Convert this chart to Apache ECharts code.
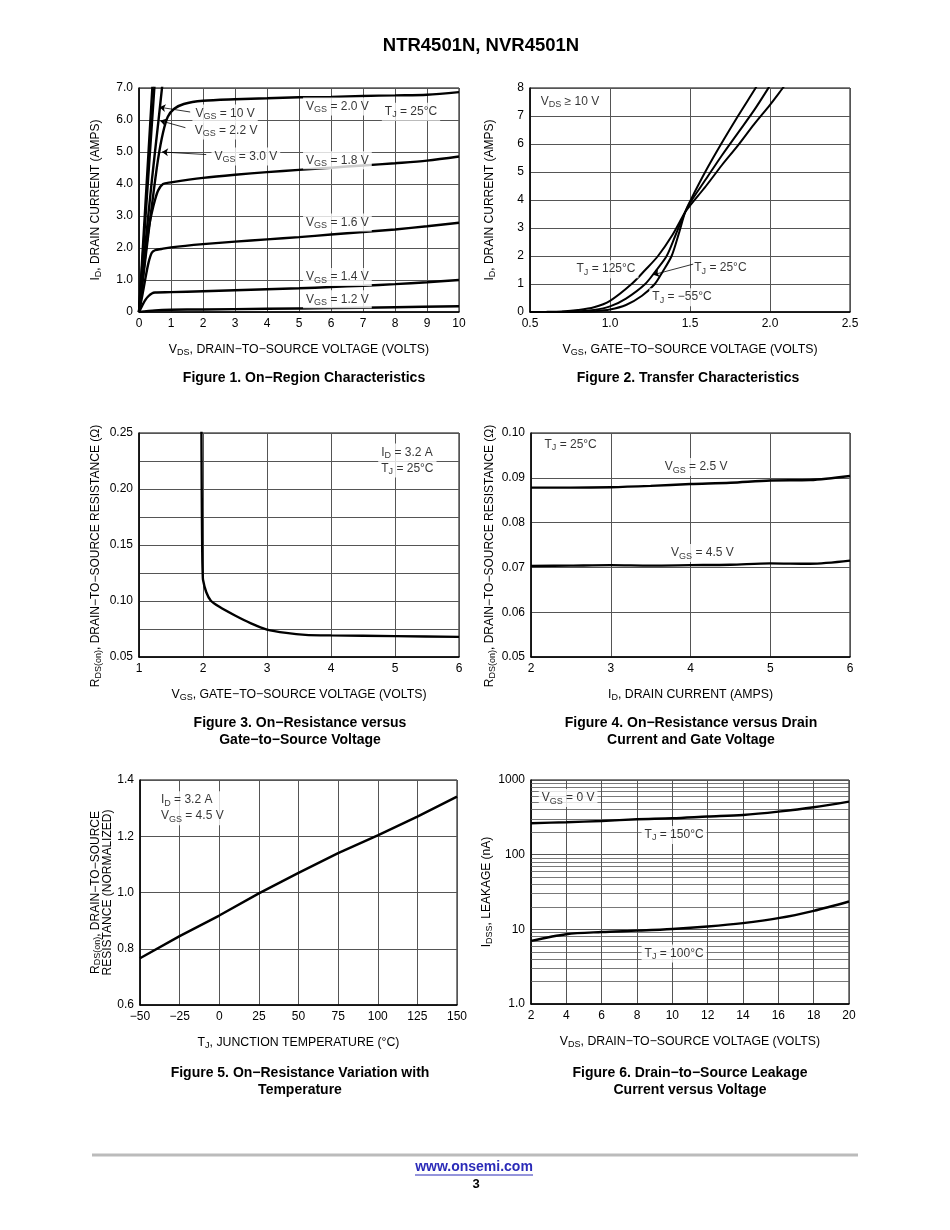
<!DOCTYPE html>
<html>
<head>
<meta charset="utf-8">
<script src="https://cdn.jsdelivr.net/npm/echarts@6/dist/echarts.min.js"></script>
<style>
html,body{margin:0;padding:0;background:#fff;}
#c{width:950px;height:1230px;}
</style>
</head>
<body>
<div id="c"></div>
<script>
// ---------- DATA ----------
// Figure 1: On-Region Characteristics (VDS [V], ID [A])
const fig1Vgs10 = [[0,0],[0.2,3.35],[0.44,7.4]];
const fig1Vgs30 = [[0,0],[0.25,3.65],[0.5,7.3]];
const fig1Vgs22 = [[0,0],[0.2,2.1],[0.4,4.1],[0.6,5.9],[0.74,7.2]];
const fig1Vgs20 = [[0,0],[0.15,1.25],[0.3,2.5],[0.45,3.7],[0.6,4.8],[0.75,5.6],[0.9,6.1],[1.1,6.35],[1.4,6.5],[2,6.6],[3,6.65],[4,6.68],[5,6.71],[6,6.72],[7,6.75],[8,6.77],[9,6.79],[10,6.87]];
const fig1Vgs18 = [[0,0],[0.1,0.9],[0.2,1.8],[0.3,2.6],[0.4,3.1],[0.5,3.5],[0.6,3.8],[0.75,4.0],[1,4.05],[2,4.19],[3,4.29],[4,4.37],[5,4.44],[6,4.51],[7,4.58],[8,4.65],[9,4.73],[10,4.86]];
const fig1Vgs16 = [[0,0],[0.1,0.5],[0.2,1.05],[0.3,1.55],[0.4,1.85],[0.5,1.93],[0.7,1.97],[1,2.02],[2,2.12],[3,2.2],[4,2.27],[5,2.34],[6,2.42],[7,2.5],[8,2.58],[9,2.68],[10,2.79]];
const fig1Vgs14 = [[0,0],[0.1,0.2],[0.2,0.38],[0.3,0.5],[0.4,0.58],[0.5,0.61],[1,0.62],[2,0.65],[3,0.68],[4,0.71],[5,0.74],[6,0.78],[7,0.82],[8,0.87],[9,0.93],[10,1.0]];
const fig1Vgs12 = [[0,0],[0.5,0.05],[1,0.07],[2,0.08],[4,0.1],[6,0.12],[8,0.15],[10,0.18]];

// Figure 2: Transfer Characteristics (VGS [V], ID [A])
const fig2Tj125 = [[0.5,0],[0.6,0.004],[0.7,0.02],[0.8,0.07],[0.9,0.17],[1.0,0.4],[1.135,1.0],[1.22,1.5],[1.30,2.0],[1.39,2.75],[1.47,3.57],[1.5,3.8],[1.6,4.5],[1.7,5.25],[1.8,5.95],[1.9,6.7],[2.0,7.4],[2.08,8.0],[2.1,8.15]];
const fig2Tj25 = [[0.5,0],[0.7,0.005],[0.8,0.02],[0.9,0.07],[1.0,0.2],[1.1,0.48],[1.22,1.0],[1.29,1.5],[1.354,2.0],[1.41,2.75],[1.47,3.57],[1.5,3.9],[1.6,4.75],[1.7,5.6],[1.8,6.4],[1.9,7.2],[1.99,8.0],[2.01,8.2]];
const fig2TjM55 = [[0.5,0],[0.8,0.01],[0.9,0.03],[1.0,0.09],[1.1,0.25],[1.2,0.58],[1.28,1.0],[1.33,1.45],[1.385,2.0],[1.43,2.8],[1.47,3.57],[1.5,3.95],[1.6,5.05],[1.7,6.05],[1.8,7.0],[1.91,8.0],[1.93,8.2]];

// Figure 3: On-Resistance vs VGS (VGS [V], RDS(on) [ohm])
const fig3Rds = [[1.975,0.26],[1.98,0.2],[1.985,0.16],[1.99,0.135],[1.995,0.125],[2.0,0.119],[2.05,0.108],[2.12,0.1005],[2.25,0.095],[2.5,0.087],[2.75,0.0800],[3.0,0.0745],[3.3,0.0715],[3.6,0.0698],[4.0,0.0693],[5.0,0.0686],[6.0,0.068]];

// Figure 4: On-Resistance vs ID (ID [A], RDS(on) [ohm])
const fig4Vgs25 = [[2,0.0878],[2.5,0.0878],[3,0.0879],[3.5,0.0882],[4,0.0886],[4.5,0.0889],[5,0.0894],[5.5,0.0895],[6,0.0904]];
const fig4Vgs45 = [[2,0.0703],[2.5,0.0704],[3,0.0705],[3.5,0.0704],[4,0.0705],[4.5,0.0706],[5,0.0709],[5.5,0.0708],[6,0.0715]];

// Figure 5: Normalized RDS(on) vs TJ
const fig5Rn = [[-50,0.766],[-25,0.845],[0,0.918],[25,0.997],[50,1.07],[75,1.14],[100,1.203],[125,1.27],[150,1.341]];

// Figure 6: IDSS leakage (VDS [V], nA)
const fig6Tj150 = [[2,264],[4,272],[6,283],[8,298],[10,307],[12,324],[14,340],[16,377],[18,431],[20,514]];
const fig6Tj100 = [[2,7.0],[4,8.6],[6,9.2],[8,9.6],[10,10.1],[12,10.9],[14,12.1],[16,14.1],[18,17.7],[20,23.6]];
const fig6MinorGrid = [2,3,4,5,6,7,8,9,20,30,40,50,60,70,80,90,200,300,400,500,600,700,800,900];

// ---------- HELPERS ----------
const F = '"Liberation Sans", Arial, Helvetica, sans-serif';
const RICH = {
  n: {fontSize: 12, fontFamily: F, color: '#000', lineHeight: 16},
  s: {fontSize: 9, fontFamily: F, color: '#000', lineHeight: 16, padding: [6,0,0,0]}
};
const RICH_X = {
  n: {fontSize: 12.3, fontFamily: F, color: '#000', lineHeight: 16},
  s: {fontSize: 9, fontFamily: F, color: '#000', lineHeight: 16, padding: [6,0,0,0]}
};
const RICH_Y = {
  n: {fontSize: 12, fontFamily: F, color: '#000', lineHeight: 16},
  s: {fontSize: 9, fontFamily: F, color: '#000', lineHeight: 16, padding: [6,0,0,0]}
};
const RICH_Y2 = {
  n: {fontSize: 12, fontFamily: F, color: '#000', lineHeight: 12},
  s: {fontSize: 9, fontFamily: F, color: '#000', lineHeight: 12, padding: [5,0,0,0]}
};
function sub(str) {
  return str.split('\n').map(line =>
    line.split(/(_\{[^}]*\})/).filter(p => p.length).map(p =>
      p.startsWith('_{') ? '{s|' + p.slice(2, -1) + '}' : '{n|' + p + '}'
    ).join('')
  ).join('\n');
}
function curve(gi, data, w, sm) {
  return {type: 'line', xAxisIndex: gi, yAxisIndex: gi, data: data, symbol: 'none', showSymbol: false,
    smooth: sm === undefined ? 0.3 : sm, clip: true, silent: true, z: 5,
    lineStyle: {color: '#000', width: w || 2.4}};
}
function note(gi, x, y, text, pos) {
  return {type: 'scatter', xAxisIndex: gi, yAxisIndex: gi, data: [[x, y]], symbolSize: 1, silent: true, z: 6,
    itemStyle: {color: 'rgba(0,0,0,0)'},
    label: {show: true, position: pos || 'inside', distance: 0, formatter: () => sub(text), rich: RICH,
      backgroundColor: '#fff', padding: [1, 3, 1, 3], align: pos === 'right' ? 'left' : 'center'}};
}
function arrow(gi, from, to) {
  return {type: 'lines', coordinateSystem: 'cartesian2d', xAxisIndex: gi, yAxisIndex: gi, silent: true, z: 7,
    symbol: ['none', 'arrow'], symbolSize: [0, 6],
    lineStyle: {color: '#000', width: 0.8, opacity: 1, curveness: 0},
    data: [{coords: [from, to]}]};
}
const TICK = {color: '#000', fontSize: 12, fontFamily: F};
function xAxis(gi, o) {
  return Object.assign({
    gridIndex: gi, type: 'value', nameLocation: 'middle', nameGap: 30,
    axisLine: {show: true, onZero: false, lineStyle: {color: '#000', width: 1.5}},
    axisTick: {show: false},
    splitLine: {show: true, lineStyle: {color: '#555', width: 1}},
    axisLabel: Object.assign({margin: 6}, TICK, o.labelFmt ? {formatter: o.labelFmt} : {}),
    nameTextStyle: {rich: RICH_X}
  }, o, {name: sub(o.name)});
}
function yAxis(gi, o) {
  return Object.assign({
    gridIndex: gi, type: 'value', nameLocation: 'middle', nameGap: 35, nameRotate: 90,
    axisLine: {show: true, onZero: false, lineStyle: {color: '#000', width: 1.5}},
    axisTick: {show: false},
    splitLine: {show: true, lineStyle: {color: '#555', width: 1}},
    axisLabel: Object.assign({margin: 6}, TICK, o.labelFmt ? {formatter: o.labelFmt} : {}),
    nameTextStyle: {rich: o.nameRich || RICH_Y, padding: o.namePad || 0}
  }, o, {name: sub(o.name)});
}
const fmt = d => v => v.toFixed(d);

// ---------- CHART ----------
const chart = echarts.init(document.getElementById('c'), null, {renderer: 'canvas'});
const gridBase = {show: true, borderColor: '#000', borderWidth: 1, backgroundColor: '#fff', containLabel: false};
const CAP = 'bold 14px ' + F;
const cap = (x, y, t) => ({type: 'text', x: x, y: y, style: {text: t, font: CAP, fill: '#000', align: 'center', verticalAlign: 'middle'}});
const option = {
  animation: false,
  backgroundColor: '#fff',
  grid: [
    Object.assign({left: 139, top: 88, width: 320, height: 224}, gridBase),
    Object.assign({left: 530, top: 88, width: 320, height: 224}, gridBase),
    Object.assign({left: 139, top: 433, width: 320, height: 224}, gridBase),
    Object.assign({left: 531, top: 433, width: 319, height: 224}, gridBase),
    Object.assign({left: 140, top: 780, width: 317, height: 225}, gridBase),
    Object.assign({left: 531, top: 780, width: 318, height: 224}, gridBase)
  ],
  xAxis: [
    xAxis(0, {min: 0, max: 10, interval: 1, name: 'V_{DS}, DRAIN\u2212TO\u2212SOURCE VOLTAGE (VOLTS)'}),
    xAxis(1, {min: 0.5, max: 2.5, interval: 0.5, name: 'V_{GS}, GATE\u2212TO\u2212SOURCE VOLTAGE (VOLTS)', labelFmt: fmt(1)}),
    xAxis(2, {min: 1, max: 6, interval: 1, name: 'V_{GS}, GATE\u2212TO\u2212SOURCE VOLTAGE (VOLTS)'}),
    xAxis(3, {min: 2, max: 6, interval: 1, name: 'I_{D}, DRAIN CURRENT (AMPS)'}),
    xAxis(4, {min: -50, max: 150, interval: 25, name: 'T_{J}, JUNCTION TEMPERATURE (\u00B0C)',
      labelFmt: v => v < 0 ? '\u2212' + Math.abs(v) : String(v)}),
    xAxis(5, {min: 2, max: 20, interval: 2, name: 'V_{DS}, DRAIN\u2212TO\u2212SOURCE VOLTAGE (VOLTS)'})
  ],
  yAxis: [
    yAxis(0, {min: 0, max: 7, interval: 1, name: 'I_{D}, DRAIN CURRENT (AMPS)',
      labelFmt: v => v === 0 ? '0' : v.toFixed(1)}),
    yAxis(1, {min: 0, max: 8, interval: 1, name: 'I_{D}, DRAIN CURRENT (AMPS)', nameGap: 32}),
    yAxis(2, {min: 0.05, max: 0.25, interval: 0.025, name: 'R_{DS(on)}, DRAIN\u2212TO\u2212SOURCE RESISTANCE (\u03A9)',
      namePad: [0, 22, 0, 0],
      labelFmt: v => Math.abs(v * 20 - Math.round(v * 20)) < 1e-6 ? v.toFixed(2) : ''}),
    yAxis(3, {min: 0.05, max: 0.10, interval: 0.01, name: 'R_{DS(on)}, DRAIN\u2212TO\u2212SOURCE RESISTANCE (\u03A9)', nameGap: 33,
      namePad: [0, 22, 0, 0], labelFmt: fmt(2)}),
    yAxis(4, {min: 0.6, max: 1.4, interval: 0.2, name: 'R_{DS(on)}, DRAIN\u2212TO\u2212SOURCE\nRESISTANCE (NORMALIZED)', nameGap: 17,
      nameRich: RICH_Y2, labelFmt: fmt(1)}),
    yAxis(5, {type: 'log', logBase: 10, min: 1, max: 1000, name: 'I_{DSS}, LEAKAGE (nA)', nameGap: 33,
      labelFmt: v => v === 1 ? '1.0' : String(v)})
  ],
  series: [
    // Figure 1
    curve(0, fig1Vgs10), curve(0, fig1Vgs30), curve(0, fig1Vgs22), curve(0, fig1Vgs20),
    curve(0, fig1Vgs18), curve(0, fig1Vgs16), curve(0, fig1Vgs14), curve(0, fig1Vgs12),
    note(0, 2.69, 6.2, 'V_{GS} = 10 V'),
    note(0, 2.72, 5.67, 'V_{GS} = 2.2 V'),
    note(0, 3.34, 4.86, 'V_{GS} = 3.0 V'),
    note(0, 6.2, 6.42, 'V_{GS} = 2.0 V'),
    note(0, 8.5, 6.26, 'T_{J} = 25\u00B0C'),
    note(0, 6.2, 4.74, 'V_{GS} = 1.8 V'),
    note(0, 6.2, 2.8, 'V_{GS} = 1.6 V'),
    note(0, 6.2, 1.09, 'V_{GS} = 1.4 V'),
    note(0, 6.2, 0.40, 'V_{GS} = 1.2 V'),
    arrow(0, [1.6, 6.25], [0.64, 6.4]),
    arrow(0, [1.45, 5.76], [0.66, 5.98]),
    arrow(0, [2.1, 4.92], [0.72, 5.0]),
    // Figure 2
    curve(1, fig2Tj125, 2), curve(1, fig2Tj25, 2), curve(1, fig2TjM55, 2),
    note(1, 0.75, 7.52, 'V_{DS} \u2265 10 V'),
    note(1, 0.975, 1.53, 'T_{J} = 125\u00B0C'),
    note(1, 1.69, 1.57, 'T_{J} = 25\u00B0C'),
    note(1, 1.45, 0.53, 'T_{J} = \u221255\u00B0C'),
    arrow(1, [1.52, 1.71], [1.27, 1.33]),
    // Figure 3
    curve(2, fig3Rds, 2.4, 0.2),
    note(2, 4.73, 0.2254, 'I_{D} = 3.2 A\nT_{J} = 25\u00B0C', 'right'),
    // Figure 4
    curve(3, fig4Vgs25), curve(3, fig4Vgs45),
    note(3, 2.125, 0.0975, 'T_{J} = 25\u00B0C', 'right'),
    note(3, 4.07, 0.0924, 'V_{GS} = 2.5 V'),
    note(3, 4.15, 0.0732, 'V_{GS} = 4.5 V'),
    // Figure 5
    curve(4, fig5Rn, 2.4, false),
    note(4, -39, 1.30, 'I_{D} = 3.2 A\nV_{GS} = 4.5 V', 'right'),
    // Figure 6
    Object.assign(curve(5, fig6Tj150), {markLine: {silent: true, symbol: 'none', label: {show: false},
      lineStyle: {color: '#555', width: 0.8, type: 'solid'}, emphasis: {disabled: true},
      data: fig6MinorGrid.map(v => ({yAxis: v}))}}),
    curve(5, fig6Tj100),
    note(5, 2.41, 573, 'V_{GS} = 0 V', 'right'),
    note(5, 10.1, 184, 'T_{J} = 150\u00B0C'),
    note(5, 10.1, 4.74, 'T_{J} = 100\u00B0C')
  ],
  graphic: [
    {type: 'text', x: 481, y: 46, style: {text: 'NTR4501N, NVR4501N', font: 'bold 18.5px ' + F, fill: '#000', align: 'center', verticalAlign: 'middle'}},
    cap(304, 378, 'Figure 1. On\u2212Region Characteristics'),
    cap(688, 378, 'Figure 2. Transfer Characteristics'),
    cap(300, 723, 'Figure 3. On\u2212Resistance versus'),
    cap(300, 740, 'Gate\u2212to\u2212Source Voltage'),
    cap(691, 723, 'Figure 4. On\u2212Resistance versus Drain'),
    cap(691, 740, 'Current and Gate Voltage'),
    cap(300, 1073, 'Figure 5. On\u2212Resistance Variation with'),
    cap(300, 1090, 'Temperature'),
    cap(690, 1073, 'Figure 6. Drain\u2212to\u2212Source Leakage'),
    cap(690, 1090, 'Current versus Voltage'),
    {type: 'line', shape: {x1: 92, y1: 1155, x2: 858, y2: 1155}, style: {stroke: '#bbb', lineWidth: 3}},
    {type: 'text', x: 474, y: 1167, style: {text: 'www.onsemi.com', font: 'bold 14px ' + F, fill: '#2b2bb8', align: 'center', verticalAlign: 'middle'}},
    {type: 'line', shape: {x1: 415, y1: 1175, x2: 533, y2: 1175}, style: {stroke: '#2b2bb8', lineWidth: 1}},
    {type: 'text', x: 476, y: 1184, style: {text: '3', font: 'bold 13px ' + F, fill: '#000', align: 'center', verticalAlign: 'middle'}}
  ]
};
chart.setOption(option);
</script>
</body>
</html>
